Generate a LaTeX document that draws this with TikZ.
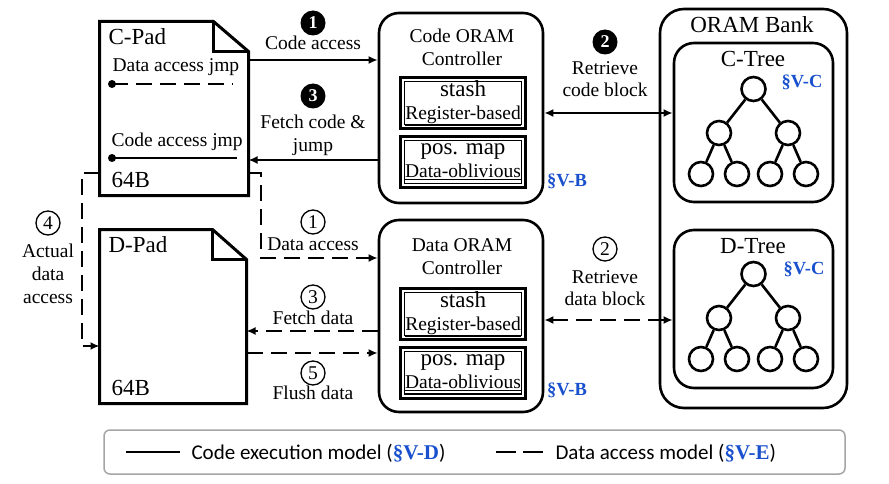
\documentclass[tikz,border=0pt]{standalone}
\usepackage{fontspec}
\setmainfont{Liberation Serif}
\newfontfamily\legendfont{Carlito}
\usetikzlibrary{arrows.meta}
\definecolor{secblue}{RGB}{25,80,205}
\definecolor{legendgray}{RGB}{165,165,165}
\newcommand{\bigfont}{\fontsize{23}{25}\selectfont}
\newcommand{\sectag}[1]{{\rmfamily\bfseries\color{secblue}\S#1}}

\tikzset{
	padbox/.style={inner sep=0pt, outer sep=0pt, minimum height=174pt},
	padline/.style={line width=3pt, line join=miter},
	ctrlbox/.style={draw, line width=2.6pt, rounded corners=20pt, minimum width=164pt},
	cellbox/.style={draw, fill=white, line width=1.2pt, double distance=2pt, preaction={draw, line width=8pt}, minimum width=120pt, minimum height=46pt, inner sep=0pt, align=center},
	bankbox/.style={draw, line width=2.6pt, rounded corners=24pt},
	treebox/.style={draw, line width=2.6pt, rounded corners=20pt, minimum width=159pt},
	vert/.style={circle, draw, line width=2.6pt, minimum size=24pt, inner sep=0pt},
	codeflow/.style={line width=2pt},
	dataflow/.style={line width=2pt, dash pattern=on 16pt off 8pt},
	stepdark/.style={circle, fill=black, text=white, font=\bfseries\fontsize{18}{18}\selectfont, minimum size=25pt, inner sep=0pt},
	steplight/.style={circle, draw, line width=1.3pt, minimum size=24pt, inner sep=0pt},
	lbl/.style={anchor=base, align=center},
	sec/.style={text=secblue, font=\bfseries\fontsize{18.5}{19}\selectfont}
}

\begin{document}
\begin{tikzpicture}[x=1pt, y=-1pt, >={Latex[length=9pt,width=8pt]},
	every node/.style={font=\fontsize{19.5}{23}\selectfont}]
	\useasboundingbox (0,0) rectangle (889,484);
	
	% C-Pad
	\node[padbox, minimum width=149pt] (cpad) at (174,108.5) {};
	\draw[padline] (cpad.north west) -- ([xshift=-35pt]cpad.north east) -- ([yshift=-30pt]cpad.north east) -- (cpad.south east) -- (cpad.south west) -- cycle;
	\draw[padline] ([xshift=-35pt]cpad.north east) |- ([yshift=-30pt]cpad.north east);
	\node[anchor=base west, font=\bigfont] at (105,45) {C-Pad};
	\node[anchor=base west] at (109,72) {Data access jmp};
	\draw[dataflow] (112,84) -- (233,84);
	\fill (112,84) circle (4);
	\node[anchor=base west] at (108,147) {Code access jmp};
	\draw[codeflow] (112,158) -- (237,158);
	\fill (112,158) circle (4);
	\node[anchor=base west, font=\bigfont] at (108,187) {64B};
	
	% D-Pad
	\node[padbox, minimum width=147pt] (dpad) at (173,316.5) {};
	\draw[padline] (dpad.north west) -- ([xshift=-34pt]dpad.north east) -- ([yshift=-30pt]dpad.north east) -- (dpad.south east) -- (dpad.south west) -- cycle;
	\draw[padline] ([xshift=-34pt]dpad.north east) |- ([yshift=-30pt]dpad.north east);
	\node[anchor=base west, font=\bigfont] at (105,252) {D-Pad};
	\node[anchor=base west, font=\bigfont] at (108,395) {64B};
	
	% controllers
	\node[ctrlbox, minimum height=190pt] (cctrl) at (461,108) {};
	\node[lbl] at (462,66) {Code ORAM\\Controller};
	\node[cellbox] (cstash) at (463,103) {{\bigfont stash}\\\underline{Register-based}};
	\node[cellbox] (cmap) at (463,162) {{\bigfont pos. map}\\\underline{Data-oblivious}};
	\node[sec] at (567,181) {\S V-B};
	
	\node[ctrlbox, minimum height=192pt] (dctrl) at (461,316) {};
	\node[lbl] at (462,274) {Data ORAM\\Controller};
	\node[cellbox] (dstash) at (463,314) {{\bigfont stash}\\\underline{Register-based}};
	\node[cellbox] (dmap) at (463,372.5) {{\bigfont pos. map}\\\underline{Data-oblivious}};
	\node[sec] at (567,390) {\S V-B};
	
	% ORAM bank
	\node[bankbox, minimum width=187pt, minimum height=399pt] (bank) at (753.5,208.5) {};
	\node[anchor=base, font=\bigfont] at (752,33) {ORAM Bank};
	\node[treebox, minimum height=159pt] (ctree) at (753.5,122.5) {};
	\node[anchor=base, font=\bigfont] at (753,67) {C-Tree};
	\node[sec] at (802,82) {\S V-C};
	\node[treebox, minimum height=158pt] (dtree) at (753.5,309) {};
	\node[anchor=base, font=\bigfont] at (753,253) {D-Tree};
	\node[sec] at (804,269) {\S V-C};
	
	\foreach \tname/\y in {c/89, d/274} {
		\node[vert] (\tname-r) at (753.5,\y) {};
		\node[vert] (\tname-a) at (719,\y+44) {};
		\node[vert] (\tname-b) at (788,\y+44) {};
		\node[vert] (\tname-a1) at (701,\y+85) {};
		\node[vert] (\tname-a2) at (737,\y+85) {};
		\node[vert] (\tname-b1) at (770,\y+85) {};
		\node[vert] (\tname-b2) at (806,\y+85) {};
		\draw[line width=2.6pt] (\tname-r) -- (\tname-a) (\tname-r) -- (\tname-b) (\tname-a) -- (\tname-a1) (\tname-a) -- (\tname-a2) (\tname-b) -- (\tname-b1) (\tname-b) -- (\tname-b2);
	}
	
	% code execution
	\draw[codeflow, ->] (cpad.east |- 0,60) -- (cctrl.west |- 0,60);
	\node[stepdark] at (313,23) {1};
	\node[lbl] at (313,50) {Code access};
	\draw[codeflow, ->] (cctrl.west |- 0,160) -- (cpad.east |- 0,160);
	\node[stepdark] at (313,96) {3};
	\node[lbl, font=\fontsize{19.5}{24}\selectfont] at (313,152) {Fetch code \&\\jump};
	\draw[codeflow, <->] (cctrl.east |- 0,113) -- (ctree.west |- 0,113);
	\node[stepdark] at (605,42) {2};
	\node[lbl, font=\fontsize{19.5}{22}\selectfont] at (605,97) {Retrieve\\code block};
	
	% data access
	\draw[dataflow, ->] (cpad.east |- 0,173) -- ++(12,0) |- (dctrl.west |- 0,258);
	\node[steplight] at (313,222) {1};
	\node[lbl] at (313,250) {Data access};
	\draw[dataflow, ->] (dctrl.west |- 0,331) -- (dpad.east |- 0,331);
	\node[steplight] at (313,297) {3};
	\node[lbl] at (313,324) {Fetch data};
	\draw[dataflow, ->] (dpad.east |- 0,353) -- (dctrl.west |- 0,353);
	\node[steplight] at (313,373) {5};
	\node[lbl] at (313,399) {Flush data};
	\draw[dataflow, <->] (dctrl.east |- 0,320) -- (dtree.west |- 0,320);
	\node[steplight] at (605,249) {2};
	\node[lbl, font=\fontsize{19.5}{22}\selectfont] at (605,305) {Retrieve\\data block};
	\draw[dataflow, ->] (cpad.west |- 0,173) -- ++(-18,0) |- (dpad.west |- 0,346);
	\node[steplight] at (48,223) {4};
	\node[lbl] at (48,303) {Actual\\data\\access};
	
	% legend
	\node[draw=legendgray, line width=1.5pt, rounded corners=6pt, minimum width=741pt, minimum height=44pt] (legend) at (474.5,452) {};
	\draw[codeflow] (126,452) -- (180,452);
	\node[anchor=base west, font=\legendfont\fontsize{21}{21}\selectfont] (lgcode) at (188,459) {Code execution model (\sectag{V-D})};
	\draw[line width=2pt, dash pattern=on 20pt off 7pt] (496,452) -- (543,452);
	\node[anchor=base west, font=\legendfont\fontsize{21}{21}\selectfont] (lgdata) at (552,459) {Data access model (\sectag{V-E})};
\end{tikzpicture}
\end{document}
